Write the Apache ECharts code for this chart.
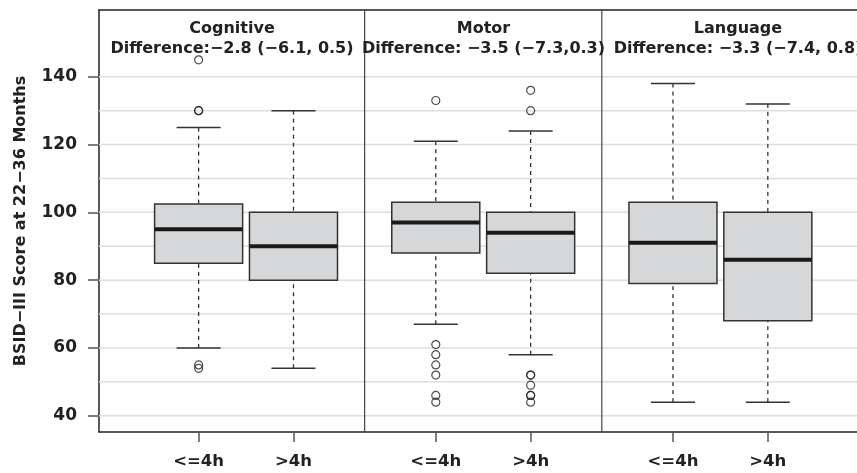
<!DOCTYPE html>
<html>
<head>
    <meta charset="utf-8"/>
    <title>BSID-III Score boxplot</title>
    <script src="https://cdn.jsdelivr.net/npm/echarts@6/dist/echarts.min.js"></script>
    <style>
        html, body { margin: 0; padding: 0; background: #fff; }
        #main { width: 857px; height: 473px; }
    </style>
</head>
<body>
<div id="main"></div>

<script>
    // 数据部分
    var positions = [1, 2, 3.5, 4.5, 6, 7];
    var posLabels = ['<=4h', '>4h', '<=4h', '>4h', '<=4h', '>4h'];
    var boxMin = [60, 54, 67, 58, 44, 44];
    var boxQ1 = [85, 80, 88, 82, 79, 68];
    var boxMedian = [95, 90, 97, 94, 91, 86];
    var boxQ3 = [102.5, 100, 103, 100, 103, 100];
    var boxMax = [125, 130, 121, 124, 138, 132];
    var outliers = [
        [145, 130, 130, 55, 54],
        [],
        [133, 61, 58, 55, 52, 46, 44],
        [136, 130, 52, 52, 49, 46, 46, 44],
        [],
        []
    ];
    var panelTitles = ['Cognitive', 'Motor', 'Language'];
    var panelDiffs = ['Difference:\u22122.8 (\u22126.1, 0.5)', 'Difference: \u22123.5 (\u22127.3,0.3)', 'Difference: \u22123.3 (\u22127.4, 0.8)'];
    var dividers = [2.75, 5.25];
    var yTicks = [40, 60, 80, 100, 120, 140];
    var yGrid = [40, 50, 60, 70, 80, 90, 100, 110, 120, 130, 140];

    var Y_MIN = 35.2, Y_MAX = 159.7;
    var X_MIN = -0.05, X_MAX = 7.94;
    var BOX_HALF = 0.464, CAP_HALF = 0.232;
    var FONT = 'DejaVu Sans';

    var boxData = positions.map(function (p, i) {
        return [p, boxMin[i], boxQ1[i], boxMedian[i], boxQ3[i], boxMax[i]];
    });
    var outData = [];
    outliers.forEach(function (list, i) {
        list.forEach(function (v) { outData.push([positions[i], v]); });
    });

    function renderBox(params, api) {
        var x = api.value(0);
        var pMin = api.coord([x, api.value(1)]);
        var pQ1 = api.coord([x - BOX_HALF, api.value(2)]);
        var pMed = api.coord([x + BOX_HALF, api.value(3)]);
        var pQ3 = api.coord([x + BOX_HALF, api.value(4)]);
        var pMax = api.coord([x, api.value(5)]);
        var capL = api.coord([x - CAP_HALF, 0])[0];
        var capR = api.coord([x + CAP_HALF, 0])[0];
        var dash = {stroke: '#333', lineWidth: 1.3, lineDash: [4, 4]};
        var solid = {stroke: '#333', lineWidth: 1.5};
        return {
            type: 'group',
            children: [
                {type: 'line', shape: {x1: pMax[0], y1: pMax[1], x2: pMax[0], y2: pQ3[1]}, style: dash},
                {type: 'line', shape: {x1: pMin[0], y1: pMin[1], x2: pMin[0], y2: pQ1[1]}, style: dash},
                {type: 'line', shape: {x1: capL, y1: pMax[1], x2: capR, y2: pMax[1]}, style: solid},
                {type: 'line', shape: {x1: capL, y1: pMin[1], x2: capR, y2: pMin[1]}, style: solid},
                {
                    type: 'rect',
                    shape: {x: pQ1[0], y: pQ3[1], width: pQ3[0] - pQ1[0], height: pQ1[1] - pQ3[1]},
                    style: {fill: '#d6d7d9', stroke: '#333', lineWidth: 1.5}
                },
                {type: 'line', shape: {x1: pQ1[0], y1: pMed[1], x2: pMed[0], y2: pMed[1]}, style: {stroke: '#1a1a1a', lineWidth: 4}}
            ]
        };
    }

    // 竖直分隔线
    function renderDivider(params, api) {
        var a = api.coord([api.value(0), Y_MIN]);
        var b = api.coord([api.value(0), Y_MAX]);
        return {type: 'line', shape: {x1: a[0], y1: a[1], x2: b[0], y2: b[1]}, style: {stroke: '#444', lineWidth: 1.2}};
    }

    // 水平网格线
    function renderGrid(params, api) {
        var a = api.coord([X_MIN, api.value(0)]);
        var b = api.coord([X_MAX, api.value(0)]);
        return {type: 'line', shape: {x1: a[0], y1: a[1], x2: b[0], y2: b[1]}, style: {stroke: '#dedede', lineWidth: 1.5}};
    }

    // 面板标题
    var graphics = [];
    var titleX = [232, 483.5, 738];
    panelTitles.forEach(function (t, i) {
        graphics.push({
            type: 'text', x: titleX[i], y: 28.5, z: 10,
            style: {text: t, font: 'bold 16px "' + FONT + '"', fill: '#222', textAlign: 'center', textVerticalAlign: 'middle', align: 'center', verticalAlign: 'middle'}
        });
        graphics.push({
            type: 'text', x: titleX[i], y: 48.5, z: 10,
            style: {text: panelDiffs[i], font: 'bold 16px "' + FONT + '"', fill: '#222', textAlign: 'center', textVerticalAlign: 'middle', align: 'center', verticalAlign: 'middle'}
        });
    });

    var myChart = echarts.init(document.getElementById('main'), null, {renderer: 'canvas'});
    var option = {
        animation: false,
        backgroundColor: '#fff',
        textStyle: {fontFamily: FONT},
        grid: {left: 99, right: 0, top: 10, bottom: 41, containLabel: false},
        graphic: graphics,
        xAxis: [{
            type: 'value', min: X_MIN, max: X_MAX, position: 'bottom',
            axisLine: {show: true, onZero: false, lineStyle: {color: '#222', width: 1.5}},
            axisTick: {show: true, length: 10, customValues: positions, lineStyle: {color: '#555', width: 1.5}},
            axisLabel: {
                show: true, customValues: positions, margin: 21,
                fontSize: 16.5, fontWeight: 'bold', color: '#222', fontFamily: FONT,
                formatter: function (v) {
                    var i = positions.indexOf(v);
                    return i >= 0 ? posLabels[i] : '';
                }
            },
            splitLine: {show: false}
        }, {
            type: 'value', min: X_MIN, max: X_MAX, position: 'top',
            axisLine: {show: true, onZero: false, lineStyle: {color: '#222', width: 1.5}},
            axisTick: {show: false}, axisLabel: {show: false}, splitLine: {show: false}
        }],
        yAxis: {
            type: 'value', min: Y_MIN, max: Y_MAX, position: 'left',
            name: 'BSID\u2212III Score at 22\u221236 Months',
            nameLocation: 'middle', nameRotate: 90, nameGap: 70,
            nameTextStyle: {fontSize: 16, fontWeight: 'bold', color: '#222', fontFamily: FONT},
            axisLine: {show: true, onZero: false, lineStyle: {color: '#222', width: 1.5}},
            axisTick: {show: true, length: 11, customValues: yTicks, lineStyle: {color: '#555', width: 1.5}},
            axisLabel: {show: true, customValues: yTicks, margin: 22, fontSize: 17, fontWeight: 'bold', color: '#222', fontFamily: FONT},
            splitLine: {show: false}
        },
        series: [{
            type: 'custom',
            renderItem: renderGrid,
            data: yGrid.map(function (v) { return [v]; }),
            encode: {y: 0},
            z: 1,
            silent: true
        }, {
            type: 'custom',
            renderItem: renderDivider,
            data: dividers.map(function (d) { return [d]; }),
            encode: {x: 0},
            z: 3,
            silent: true
        }, {
            type: 'custom',
            renderItem: renderBox,
            data: boxData,
            encode: {x: 0, y: [1, 2, 3, 4, 5]},
            z: 4,
            silent: true
        }, {
            type: 'scatter',
            data: outData,
            symbol: 'circle',
            symbolSize: 8,
            itemStyle: {color: 'transparent', borderColor: '#222', borderWidth: 1.2},
            z: 5,
            silent: true
        }]
    };
    myChart.setOption(option);

    window.onresize = function () {
        myChart.resize();
    };
</script>
</body>
</html>
